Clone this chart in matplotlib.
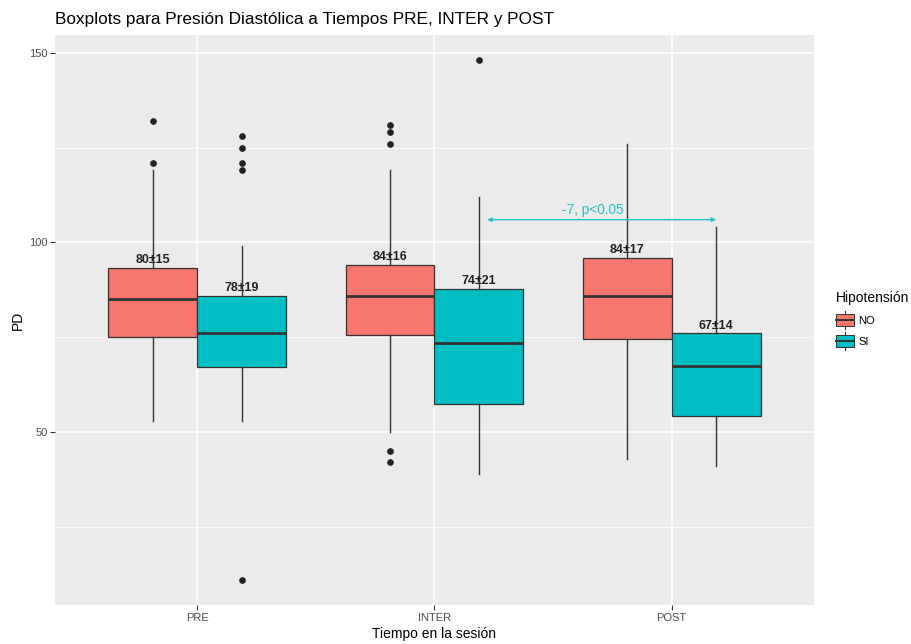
import matplotlib as mpl
import matplotlib.pyplot as plt
import numpy as np
from matplotlib.legend_handler import HandlerBase
from matplotlib.lines import Line2D
from matplotlib.patches import Patch, Rectangle


mpl.rcParams["font.family"] = ["Liberation Sans", "DejaVu Sans"]


TIMES = ["PRE", "INTER", "POST"]
GROUPS = ["NO", "SI"]

# box statistics per group, one entry per time point
no_whislo = [53, 50, 43]
no_q1 = [75, 75.6, 74.5]
no_med = [85, 86, 86]
no_q3 = [93.3, 94, 96]
no_whishi = [119, 119, 126]
no_fliers = [[121, 132], [126, 129, 131, 45, 42], []]
no_labels = ["80±15", "84±16", "84±17"]

si_whislo = [53, 39, 41]
si_q1 = [67.2, 57.3, 54.2]
si_med = [76, 73.4, 67.5]
si_q3 = [86, 87.7, 76]
si_whishi = [99, 112, 104]
si_fliers = [[119, 121, 125, 128, 11], [148], []]
si_labels = ["78±19", "74±21", "67±14"]

# INTER -> POST comparison for the SI group
diff_text = "-7, p<0.05"
diff_y = 106

COLORS = {"NO": "#F8766D", "SI": "#00BFC4"}
EDGE = "#333333"
ANNOT = "#22C3C8"


class BoxKey(HandlerBase):
    # small boxplot glyph, sizes in points
    box_w = 12.5
    box_h = 8.5
    whisk_h = 13.0

    def create_artists(self, legend, orig_handle, xdescent, ydescent,
                       width, height, fontsize, trans):
        xm = -xdescent + width / 2
        ym = -ydescent + height / 2
        whisk = Line2D([xm, xm], [ym - self.whisk_h / 2, ym + self.whisk_h / 2],
                       color=EDGE, lw=0.8, transform=trans)
        rect = Rectangle((xm - self.box_w / 2, ym - self.box_h / 2),
                         self.box_w, self.box_h,
                         fc=orig_handle.get_facecolor(), ec=EDGE, lw=0.7,
                         transform=trans)
        med = Line2D([xm - self.box_w / 2, xm + self.box_w / 2], [ym, ym],
                     color=EDGE, lw=1.4, transform=trans)
        return [whisk, rect, med]


def stats(whislo, q1, med, q3, whishi, fliers):
    return [dict(whislo=a, q1=b, med=c, q3=d, whishi=e, fliers=f)
            for a, b, c, d, e, f in zip(whislo, q1, med, q3, whishi, fliers)]


fig = plt.figure(figsize=(9.12, 6.44), dpi=100)
ax = fig.add_axes([0.0603, 0.0606, 0.8322, 0.8851])
ax.set_facecolor("#EBEBEB")

pos = np.arange(1, len(TIMES) + 1)
width = 0.375
series = [
    ("NO", pos - width / 2,
     stats(no_whislo, no_q1, no_med, no_q3, no_whishi, no_fliers), no_labels),
    ("SI", pos + width / 2,
     stats(si_whislo, si_q1, si_med, si_q3, si_whishi, si_fliers), si_labels),
]

for name, xs, st, labels in series:
    ax.bxp(st, positions=xs, widths=width, patch_artist=True,
           showcaps=False, manage_ticks=False,
           boxprops=dict(facecolor=COLORS[name], edgecolor=EDGE, lw=0.9),
           medianprops=dict(color=EDGE, lw=2.0),
           whiskerprops=dict(color=EDGE, lw=1.0),
           flierprops=dict(marker="o", markersize=3.8, markerfacecolor="#222222",
                           markeredgecolor="#222222"),
           zorder=3)
    for x, s, lab in zip(xs, st, labels):
        ax.text(x, s["q3"] + 0.5, lab, ha="center", va="bottom",
                fontsize=9, fontweight="bold", color="#222222", zorder=4)

# bracket between SI at INTER and SI at POST
x_from = pos[1] + width / 2
x_to = pos[2] + width / 2
ax.annotate("", xy=(x_to, diff_y), xytext=(x_from, diff_y),
            arrowprops=dict(arrowstyle="<|-|>", color=ANNOT, lw=1.0,
                            mutation_scale=6, shrinkA=6, shrinkB=0),
            zorder=4)
ax.text((x_from + x_to) / 2 - 0.02, diff_y + 0.8, diff_text, ha="center",
        va="bottom", fontsize=9.8, color=ANNOT, zorder=4)

ax.set_xlim(0.4, 3.6)
ax.set_ylim(4.4, 154.7)
ax.set_xticks(pos)
ax.set_xticklabels(TIMES)
ax.set_yticks([50, 100, 150])
ax.set_yticks([25, 75, 125], minor=True)
ax.grid(True, which="major", color="white", lw=1.1)
ax.grid(True, which="minor", axis="y", color="white", lw=0.5)
ax.set_axisbelow(True)
ax.tick_params(which="major", length=3.5, width=0.8, color="#333333",
               labelsize=8, labelcolor="#4D4D4D", pad=2)
ax.tick_params(which="minor", length=0)
for sp in ax.spines.values():
    sp.set_visible(False)

ax.set_xlabel("Tiempo en la sesión", fontsize=10, labelpad=3)
ax.set_ylabel("PD", fontsize=10, labelpad=3)
ax.set_title("Boxplots para Presión Diastólica a Tiempos PRE, INTER y POST",
             loc="left", fontsize=12.4, pad=8)

handles = [Patch(facecolor=COLORS[g], label=g) for g in GROUPS]
leg = fig.legend(handles=handles, title="Hipotensión", loc="upper left",
                 bbox_to_anchor=(0.906, 0.563), frameon=False,
                 fontsize=8, title_fontsize=10, handlelength=1.6,
                 handleheight=1.1, handletextpad=0.4, labelspacing=0.85,
                 handler_map={Patch: BoxKey()})
leg._legend_box.align = "left"

fig.savefig("out.png", dpi=100)
